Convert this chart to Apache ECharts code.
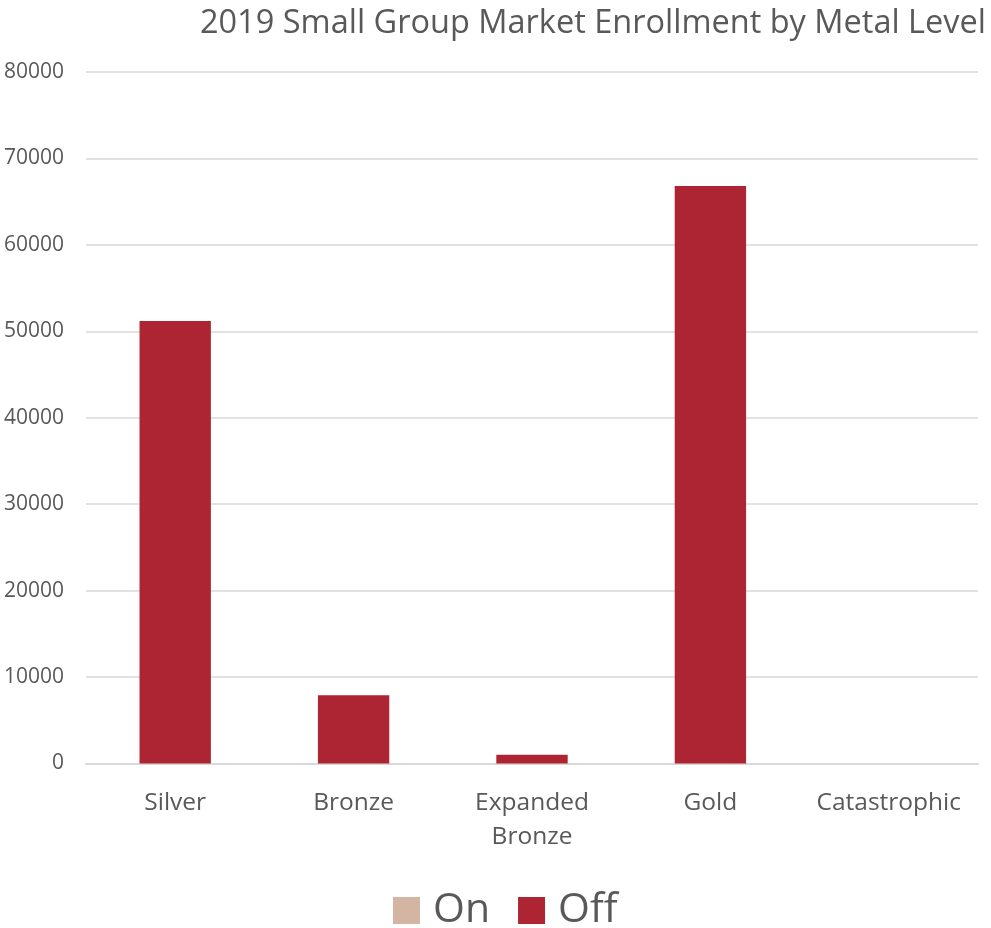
<!DOCTYPE html>
<html>
<head>
<meta charset="utf-8">
<script src="https://cdn.jsdelivr.net/npm/echarts@6/dist/echarts.min.js"></script>
<style>
  html, body { margin: 0; padding: 0; background: #ffffff; }
  #chart { width: 991px; height: 928px; }
</style>
</head>
<body>
<div id="chart"></div>
<script>
// Enrollment by metal level, split by on/off exchange
const categories = ['Silver', 'Bronze', 'Expanded\nBronze', 'Gold', 'Catastrophic'];
const onValues = [0, 0, 0, 0, 0];
const offValues = [51200, 7900, 1000, 66800, 0];
const seriesNames = ['On', 'Off'];

const textColor = '#595959';
const fontFamily = '"Open Sans", "Noto Sans", sans-serif';

const chart = echarts.init(document.getElementById('chart'), null, { renderer: 'canvas' });
chart.setOption({
  animation: false,
  backgroundColor: '#ffffff',
  title: {
    text: '2019 Small Group Market Enrollment by Metal Level',
    right: 0,
    top: 2,
    textStyle: { color: textColor, fontSize: 32.5, fontWeight: 'normal', fontFamily: fontFamily }
  },
  legend: {
    data: seriesNames,
    bottom: -8,
    left: 388,
    itemWidth: 27,
    itemHeight: 27,
    itemGap: 28,
    icon: 'rect',
    textStyle: { color: textColor, fontSize: 41, fontFamily: fontFamily, padding: [0, 0, 0, 8] }
  },
  grid: { left: 86, right: 13, top: 72, bottom: 164.5, containLabel: false },
  xAxis: {
    type: 'category',
    data: categories,
    axisLine: { lineStyle: { color: '#d9d9d9', width: 2 } },
    axisTick: { show: false },
    axisLabel: {
      color: textColor,
      fontSize: 24.5,
      fontFamily: fontFamily,
      margin: 23,
      lineHeight: 34,
      interval: 0,
      hideOverlap: false
    }
  },
  yAxis: {
    type: 'value',
    min: 0,
    max: 80000,
    interval: 10000,
    axisLine: { show: false },
    axisTick: { show: false },
    splitLine: { lineStyle: { color: '#d9d9d9', width: 1.5 } },
    axisLabel: {
      color: textColor,
      fontSize: 21,
      fontFamily: fontFamily,
      margin: 22,
      formatter: (v) => String(v)
    }
  },
  series: [
    {
      name: seriesNames[0],
      type: 'bar',
      stack: 'enroll',
      barWidth: '40%',
      data: onValues,
      itemStyle: { color: '#D4B5A3' }
    },
    {
      name: seriesNames[1],
      type: 'bar',
      stack: 'enroll',
      barWidth: '40%',
      data: offValues,
      itemStyle: { color: '#AD2532' }
    }
  ]
});
</script>
</body>
</html>
